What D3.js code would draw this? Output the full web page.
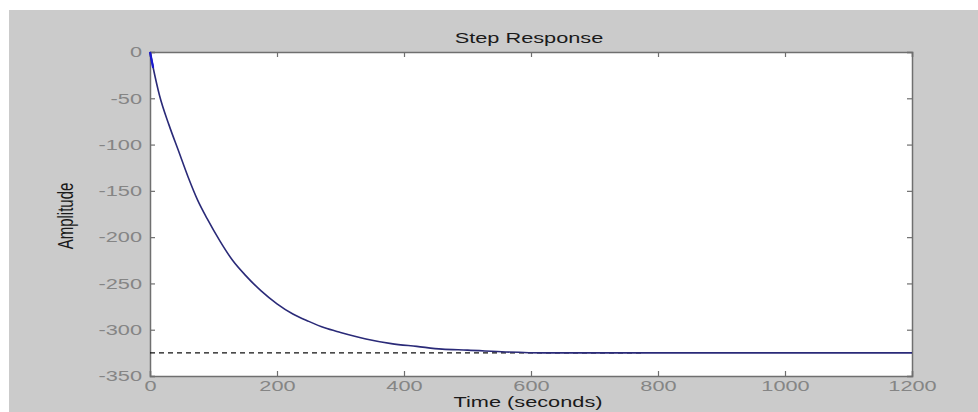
<!DOCTYPE html>
<html>
<head>
<meta charset="utf-8">
<script src="https://cdn.jsdelivr.net/npm/d3@7/dist/d3.min.js"></script>
<style>
  body { margin: 0; background: #fff; }
  text { font-family: "Liberation Sans", Arial, sans-serif; }
</style>
</head>
<body>
<div id="chart"></div>
<script>
// values
var timeVals = [0, 5, 15, 30, 45, 60, 75, 90, 110, 130, 150, 175, 200, 225, 250,
                275, 300, 340, 380, 420, 460, 500, 560, 620, 700, 780, 1200];
var ampVals = [0, -17, -47, -79, -107, -135, -160, -180, -204, -225, -241, -258,
               -272, -283, -291, -298, -303, -310, -315, -318, -321, -322, -324,
               -325, -325, -325, -325];
var steadyTime = [0, 775];
var steadyVal = [-325, -325];
var xTicks = [0, 200, 400, 600, 800, 1000, 1200];
var yTicks = [0, -50, -100, -150, -200, -250, -300, -350];

var W = 978, H = 412,
  plotL = 150, plotR = 912, plotT = 52, plotB = 376,
  sx = 1.45; // the source picture is stretched sideways

var svg = d3.select('#chart').append('svg')
  .attr('width', W)
  .attr('height', H);

// figure background
svg.append('rect')
  .attr('x', 9).attr('y', 10)
  .attr('width', W - 9).attr('height', H - 10)
  .attr('fill', '#cbcbcb');

var x = d3.scaleLinear().domain([0, 1200]).range([plotL, plotR]);
var y = d3.scaleLinear().domain([-350, 0]).range([plotB, plotT]);

svg.append('rect')
  .attr('x', plotL).attr('y', plotT)
  .attr('width', plotR - plotL).attr('height', plotB - plotT)
  .attr('fill', '#fff');

var axisColor = '#6f6f6f', labelColor = '#858585';
var plainFmt = function(d) { return String(d); };

// bottom axis
var gx = svg.append('g')
  .attr('transform', 'translate(0,' + plotB + ')')
  .call(d3.axisBottom(x).tickValues(xTicks).tickFormat(plainFmt)
        .tickSize(-5).tickPadding(0));
gx.selectAll('text')
  .attr('y', 15).attr('dy', 0)
  .attr('transform', 'scale(' + sx + ',1)');

// top axis (ticks only)
var gxt = svg.append('g')
  .attr('transform', 'translate(0,' + plotT + ')')
  .call(d3.axisTop(x).tickValues(xTicks).tickSize(-5).tickFormat(''));

// left axis
var gy = svg.append('g')
  .attr('transform', 'translate(' + plotL + ',0)')
  .call(d3.axisLeft(y).tickValues(yTicks).tickFormat(plainFmt)
        .tickSize(-5).tickPadding(0));
gy.selectAll('text')
  .attr('x', -8 / sx)
  .attr('transform', 'scale(' + sx + ',1)');

// right axis (ticks only)
var gyr = svg.append('g')
  .attr('transform', 'translate(' + plotR + ',0)')
  .call(d3.axisRight(y).tickValues(yTicks).tickSize(-5).tickFormat(''));

[gx, gxt, gy, gyr].forEach(function(g) {
  g.select('.domain').attr('stroke', axisColor).attr('stroke-width', 1.5);
  g.selectAll('.tick line').attr('stroke', axisColor).attr('stroke-width', 1.2);
  g.selectAll('.tick text')
    .attr('fill', labelColor)
    .style('font-size', '15px');
});

var line = d3.line().x(function(d) { return x(d[0]); })
                    .y(function(d) { return y(d[1]); });

// steady state dashed line
var steady = steadyTime.map(function(t, i) { return [t, steadyVal[i]]; });
svg.append('path')
  .datum(steady)
  .attr('d', line)
  .attr('fill', 'none')
  .attr('stroke', '#111')
  .attr('stroke-width', 1.3)
  .attr('stroke-dasharray', '5,4');

// response curve
var resp = timeVals.map(function(t, i) { return [t, ampVals[i]]; });
svg.append('path')
  .datum(resp)
  .attr('d', line.curve(d3.curveMonotoneX))
  .attr('fill', 'none')
  .attr('stroke', '#2a2a78')
  .attr('stroke-width', 1.6);

// the first sample shows brighter blue in the picture
svg.append('path')
  .datum(resp.slice(0, 2))
  .attr('d', line.curve(d3.curveLinear))
  .attr('fill', 'none')
  .attr('stroke', '#1a1ad0')
  .attr('stroke-width', 2.2);

// title and axis labels
function label(txt, px, py, rot) {
  svg.append('text')
    .attr('transform', 'translate(' + px + ',' + py + ')' +
          (rot ? ' rotate(-90) scale(1,' + sx + ')' : ' scale(' + sx + ',1)'))
    .attr('text-anchor', 'middle')
    .attr('fill', '#1a1a1a')
    .style('font-size', '15px')
    .text(txt);
}
label('Step Response', 529, 43, false);
label('Time (seconds)', 528, 407, false);
label('Amplitude', 73, 216, true);
</script>
</body>
</html>
